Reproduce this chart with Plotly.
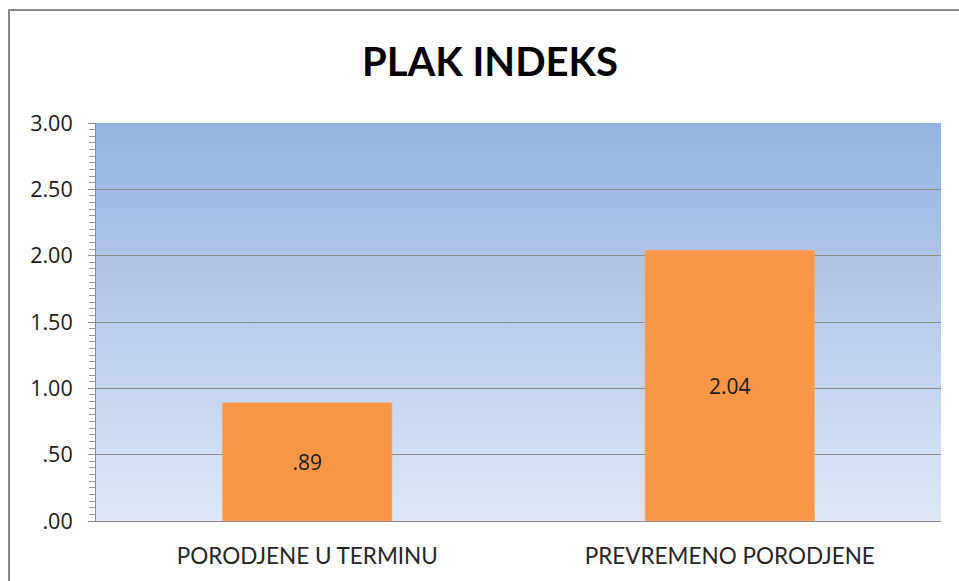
import base64
import plotly.graph_objects as go

categories = ["PORODJENE U TERMINU", "PREVREMENO PORODJENE"]
values = [0.89, 2.04]
value_labels = [".89", "2.04"]
tick_vals = [0, 0.5, 1.0, 1.5, 2.0, 2.5, 3.0]
tick_text = [".00", ".50", "1.00", "1.50", "2.00", "2.50", "3.00"]

W, H = 959, 581
ML, MR, MT, MB = 96, 18, 123, 60
PW, PH = W - ML - MR, H - MT - MB

svg = (
    '<svg xmlns="http://www.w3.org/2000/svg" width="100" height="100" preserveAspectRatio="none">'
    '<defs><linearGradient id="g" x1="0" y1="0" x2="0" y2="1">'
    '<stop offset="0" stop-color="#95b3e1"/><stop offset="1" stop-color="#dee6f4"/>'
    '</linearGradient></defs><rect width="100" height="100" fill="url(#g)"/></svg>'
)
bg_src = "data:image/svg+xml;base64," + base64.b64encode(svg.encode()).decode()

fig = go.Figure()
fig.add_trace(go.Bar(
    x=categories, y=values,
    text=value_labels, textposition="inside", insidetextanchor="middle",
    textangle=0,
    textfont=dict(family="Open Sans", size=21, color="#1a1a1a"),
    marker=dict(color="#f79646", line=dict(color="#f5a262", width=1)),
    hoverinfo="skip",
))

def px_x(p):
    return (p - ML) / PW

def px_y(p):
    return (H - MB - p) / PH

fig.update_layout(
    width=W, height=H,
    margin=dict(l=ML, r=MR, t=MT, b=MB),
    paper_bgcolor="white",
    plot_bgcolor="rgba(0,0,0,0)",
    showlegend=False,
    bargap=0.6,
    title=dict(text="<b>PLAK INDEKS</b>", x=490 / W, xref="container", xanchor="center",
               y=1 - 62 / H, yref="container", yanchor="middle",
               font=dict(family="Lato", size=40, color="black")),
    images=[dict(source=bg_src, xref="paper", yref="paper", x=0, y=1, sizex=1, sizey=1,
                 xanchor="left", yanchor="top", sizing="stretch", layer="below")],
    shapes=[dict(type="rect", xref="paper", yref="paper",
                 x0=px_x(9), x1=px_x(975), y0=px_y(595), y1=px_y(10),
                 line=dict(color="#878787", width=2), fillcolor="rgba(0,0,0,0)", layer="below")],
)

fig.update_xaxes(
    showgrid=False, showline=True, linecolor="#8c8c8c", linewidth=1,
    ticks="", tickfont=dict(family="Lato", size=22.5, color="#262626"),
    ticklabelstandoff=15,
)
fig.update_yaxes(
    range=[0, 3], tickvals=tick_vals, ticktext=tick_text,
    showgrid=True, gridcolor="#8c8c8c", gridwidth=1,
    showline=True, linecolor="#8c8c8c", linewidth=1,
    ticks="outside", ticklen=7, tickcolor="#8c8c8c",
    minor=dict(dtick=0.05, ticks="outside", ticklen=6, tickcolor="#9a9a9a", showgrid=False),
    tickfont=dict(family="Open Sans", size=21.5, color="#1a1a1a"),
    ticklabelstandoff=11, zeroline=False,
)

fig.write_html("out.html", config={"displayModeBar": False},
               post_script="document.body.style.margin='0';document.body.style.overflow='hidden';")
